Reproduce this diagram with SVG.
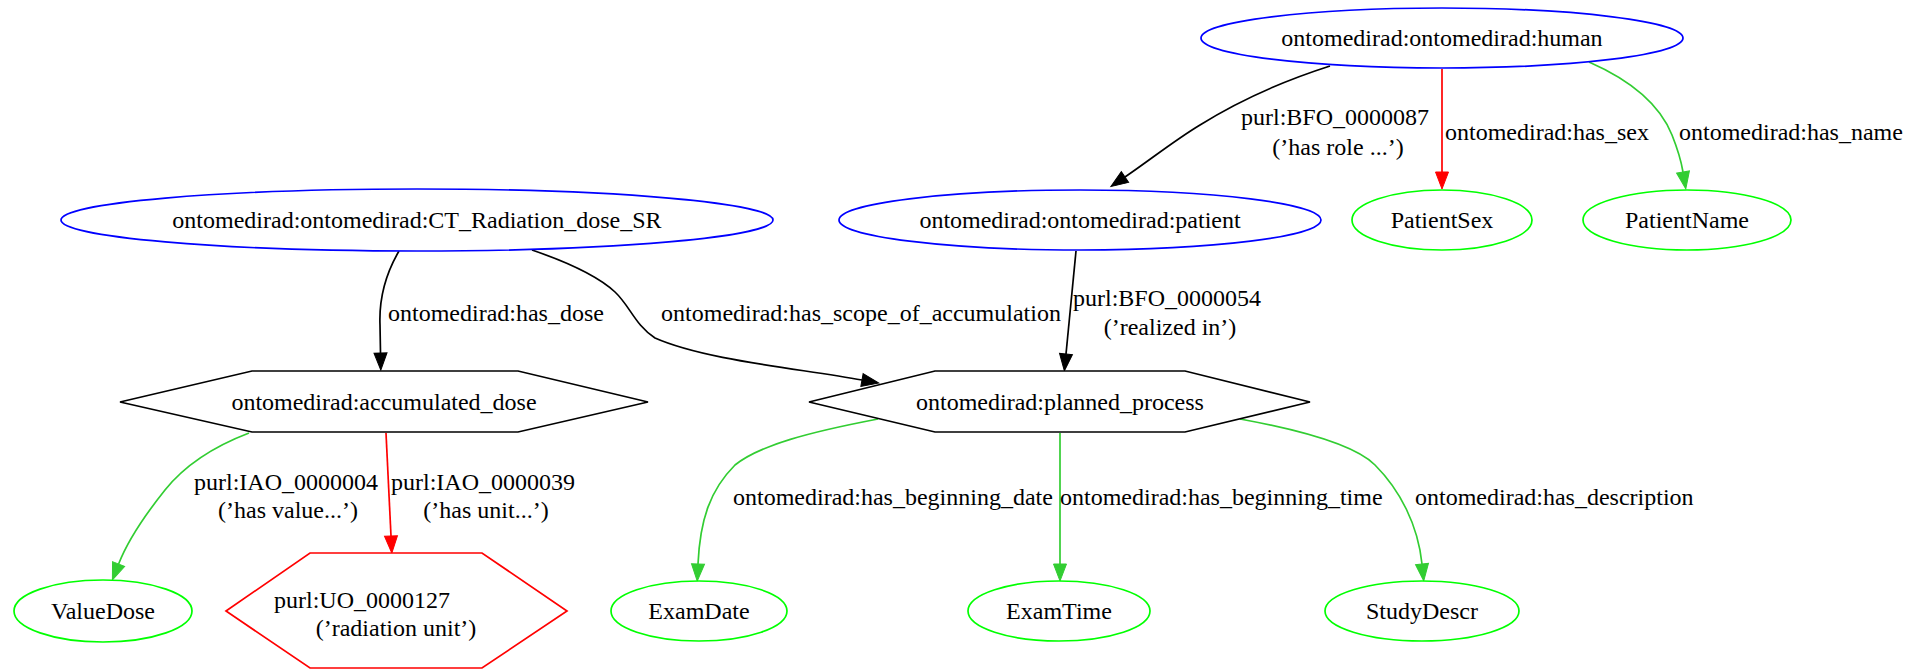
<svg xmlns="http://www.w3.org/2000/svg" width="1928" height="672" viewBox="0 0 1928 672">
<style>
text{font-family:"Liberation Serif","Times New Roman",serif;font-size:24px;fill:#000}
.m{text-anchor:middle}
.s{text-anchor:start}
.nb{fill:#fff;stroke:#0000ff;stroke-width:1.7}
.ng{fill:#fff;stroke:#00ff00;stroke-width:1.7}
.nk{fill:#fff;stroke:#000;stroke-width:1.7}
.nr{fill:#fff;stroke:#ff0000;stroke-width:1.7}
.ek{fill:none;stroke:#000;stroke-width:1.7;marker-end:url(#ak)}
.er{fill:none;stroke:#ff0000;stroke-width:1.7;marker-end:url(#ar)}
.eg{fill:none;stroke:#32cd32;stroke-width:1.7;marker-end:url(#ag)}
</style>
<defs>
<marker id="ak" markerUnits="userSpaceOnUse" markerWidth="20" markerHeight="14" refX="0" refY="6.5" orient="auto" overflow="visible"><path d="M0,0 L17,6.5 L0,13 Z" fill="#000" stroke="#000" stroke-width="1"/></marker>
<marker id="ar" markerUnits="userSpaceOnUse" markerWidth="20" markerHeight="14" refX="0" refY="6.5" orient="auto" overflow="visible"><path d="M0,0 L17,6.5 L0,13 Z" fill="#ff0000" stroke="#ff0000" stroke-width="1"/></marker>
<marker id="ag" markerUnits="userSpaceOnUse" markerWidth="20" markerHeight="14" refX="0" refY="6.5" orient="auto" overflow="visible"><path d="M0,0 L17,6.5 L0,13 Z" fill="#32cd32" stroke="#32cd32" stroke-width="1"/></marker>
</defs>
<rect width="1928" height="672" fill="#fff"/>
<g id="edges">
<path class="ek" d="M1330,66 C1280,82 1240,100 1200,125 C1175,140 1150,160 1125,177"/>
<text class="m" x="1335" y="125">purl:BFO_0000087</text>
<text class="m" x="1338" y="155">(’has role ...’)</text>
<path class="er" d="M1442,69 L1442,172"/>
<text class="s" x="1445" y="140">ontomedirad:has_sex</text>
<path class="eg" d="M1589,62 C1630,80 1660,105 1672,135 C1678,150 1681,160 1683,172"/>
<text class="s" x="1679" y="140">ontomedirad:has_name</text>
<path class="ek" d="M399,251 C385,275 379,300 380,325 L380.5,353"/>
<text class="s" x="388" y="321">ontomedirad:has_dose</text>
<path class="ek" d="M532,250 C570,263 600,278 615,292 C630,306 635,325 655,338 C705,360 795,368 862,380"/>
<text class="m" x="861" y="321">ontomedirad:has_scope_of_accumulation</text>
<path class="ek" d="M1076,251 L1066,354"/>
<text class="m" x="1167" y="306">purl:BFO_0000054</text>
<text class="m" x="1170" y="335">(’realized in’)</text>
<path class="eg" d="M249,433 C215,446 185,465 165,490 C145,515 128,540 118.6,564"/>
<text class="m" x="286" y="490">purl:IAO_0000004</text>
<text class="m" x="288" y="518">(’has value...’)</text>
<path class="er" d="M386,433 L391,536"/>
<text class="m" x="483" y="490">purl:IAO_0000039</text>
<text class="m" x="486" y="518">(’has unit...’)</text>
<path class="eg" d="M878,419 C810,432 760,445 735,465 C710,490 700,520 698,564"/>
<text class="s" x="733" y="505">ontomedirad:has_beginning_date</text>
<path class="eg" d="M1060,433 L1060,564"/>
<text class="s" x="1060" y="505">ontomedirad:has_beginning_time</text>
<path class="eg" d="M1240,419 C1300,430 1355,445 1375,465 C1400,490 1418,525 1422,564"/>
<text class="s" x="1415" y="505">ontomedirad:has_description</text>
</g>
<g id="human"><ellipse class="nb" cx="1442" cy="38" rx="241" ry="30"/><text class="m" x="1442" y="46">ontomedirad:ontomedirad:human</text></g>
<g id="ct"><ellipse class="nb" cx="417" cy="220" rx="356" ry="31"/><text class="m" x="417" y="228">ontomedirad:ontomedirad:CT_Radiation_dose_SR</text></g>
<g id="patient"><ellipse class="nb" cx="1080" cy="220" rx="241" ry="30"/><text class="m" x="1080" y="228">ontomedirad:ontomedirad:patient</text></g>
<g id="patientsex"><ellipse class="ng" cx="1442" cy="220" rx="90" ry="30"/><text class="m" x="1442" y="228">PatientSex</text></g>
<g id="patientname"><ellipse class="ng" cx="1687" cy="220" rx="104" ry="30"/><text class="m" x="1687" y="228">PatientName</text></g>
<g id="accumulated_dose"><polygon class="nk" points="120,402 252,371 518,371 648,402 518,432 252,432"/><text class="m" x="384" y="410">ontomedirad:accumulated_dose</text></g>
<g id="planned_process"><polygon class="nk" points="809,402 935,371 1185,371 1310,402 1185,432 935,432"/><text class="m" x="1060" y="410">ontomedirad:planned_process</text></g>
<g id="valuedose"><ellipse class="ng" cx="103" cy="611" rx="89" ry="31"/><text class="m" x="103" y="619">ValueDose</text></g>
<g id="uo"><polygon class="nr" points="226,611 310,553 482,553 567,611 482,668 310,668"/><text class="m" x="362" y="608">purl:UO_0000127</text><text class="m" x="396" y="636">(’radiation unit’)</text></g>
<g id="examdate"><ellipse class="ng" cx="699" cy="611" rx="88" ry="30"/><text class="m" x="699" y="619">ExamDate</text></g>
<g id="examtime"><ellipse class="ng" cx="1059" cy="611" rx="91" ry="30"/><text class="m" x="1059" y="619">ExamTime</text></g>
<g id="studydescr"><ellipse class="ng" cx="1422" cy="611" rx="97" ry="30"/><text class="m" x="1422" y="619">StudyDescr</text></g>
</svg>
